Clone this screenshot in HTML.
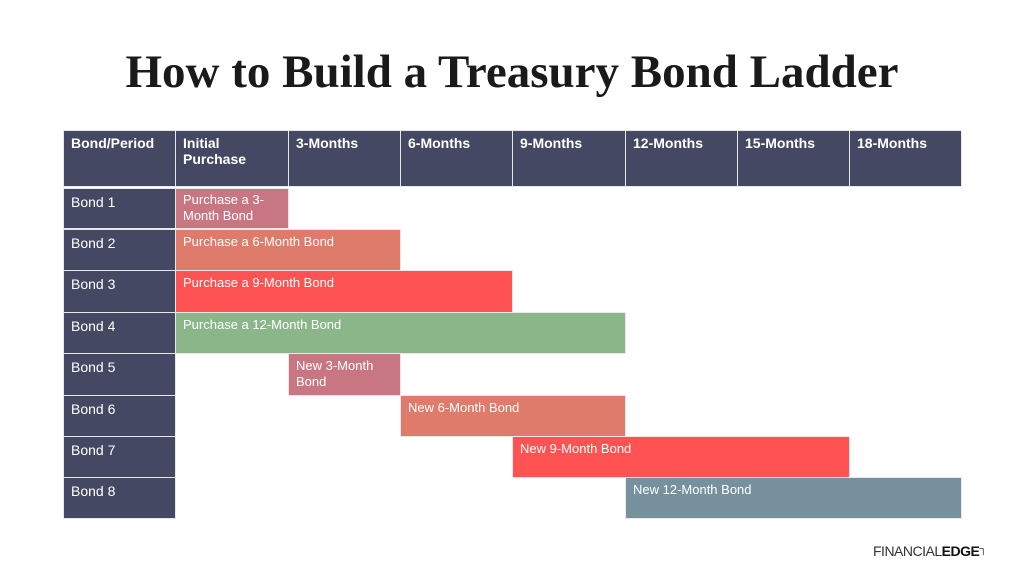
<!DOCTYPE html>
<html><head><style>
body{margin:0;width:1024px;height:577px;background:#fff;position:relative;overflow:hidden;font-family:"Liberation Sans",sans-serif}
.t{position:absolute;left:0;width:1024px;top:46px;text-align:center;font-family:"Liberation Serif",serif;font-weight:bold;font-size:47px;color:#1a1a1a;line-height:52px}
.c{position:absolute;box-sizing:border-box;color:#fff;font-size:13px;padding:4px 7px;line-height:16px;border:1px solid #e8e8ea}
.h{background:#454862;font-weight:bold;font-size:14px}
.b{background:#454862;font-size:14px;padding-top:5px}
</style></head><body>
<div class="t">How to Build a Treasury Bond Ladder</div>
<div class="c h" style="left:63px;top:130px;width:113px;height:57px">Bond/Period</div>
<div class="c h" style="left:175px;top:130px;width:114px;height:57px">Initial<br>Purchase</div>
<div class="c h" style="left:288px;top:130px;width:113px;height:57px">3-Months</div>
<div class="c h" style="left:400px;top:130px;width:113px;height:57px">6-Months</div>
<div class="c h" style="left:512px;top:130px;width:114px;height:57px">9-Months</div>
<div class="c h" style="left:625px;top:130px;width:113px;height:57px">12-Months</div>
<div class="c h" style="left:737px;top:130px;width:113px;height:57px">15-Months</div>
<div class="c h" style="left:849px;top:130px;width:113px;height:57px">18-Months</div>

<div class="c b" style="left:63px;top:188px;width:113px;height:41px">Bond 1</div>
<div class="c b" style="left:63px;top:229px;width:113px;height:42px">Bond 2</div>
<div class="c b" style="left:63px;top:270px;width:113px;height:43px">Bond 3</div>
<div class="c b" style="left:63px;top:312px;width:113px;height:42px">Bond 4</div>
<div class="c b" style="left:63px;top:353px;width:113px;height:43px">Bond 5</div>
<div class="c b" style="left:63px;top:395px;width:113px;height:42px">Bond 6</div>
<div class="c b" style="left:63px;top:436px;width:113px;height:42px">Bond 7</div>
<div class="c b" style="left:63px;top:477px;width:113px;height:42px">Bond 8</div>

<div class="c" style="background:#c97683;left:175px;top:188px;width:114px;height:41px;padding-top:3px">Purchase a 3-<br>Month Bond</div>
<div class="c" style="background:#de7b6b;left:175px;top:229px;width:226px;height:42px">Purchase a 6-Month Bond</div>
<div class="c" style="background:#ff5252;left:175px;top:270px;width:338px;height:43px">Purchase a 9-Month Bond</div>
<div class="c" style="background:#8ab68a;left:175px;top:312px;width:451px;height:42px">Purchase a 12-Month Bond</div>
<div class="c" style="background:#c97683;left:288px;top:353px;width:113px;height:43px">New 3-Month<br>Bond</div>
<div class="c" style="background:#de7b6b;left:400px;top:395px;width:226px;height:42px">New 6-Month Bond</div>
<div class="c" style="background:#ff5252;left:512px;top:436px;width:338px;height:42px">New 9-Month Bond</div>
<div class="c" style="background:#77909e;left:625px;top:477px;width:337px;height:42px">New 12-Month Bond</div>

<div style="position:absolute;left:873px;top:543px;font-size:14px;color:#333;letter-spacing:-0.5px">FINANCIAL<b style="color:#111">EDGE</b><span style="font-size:11px;vertical-align:top">&#x2510;</span></div>
</body></html>
